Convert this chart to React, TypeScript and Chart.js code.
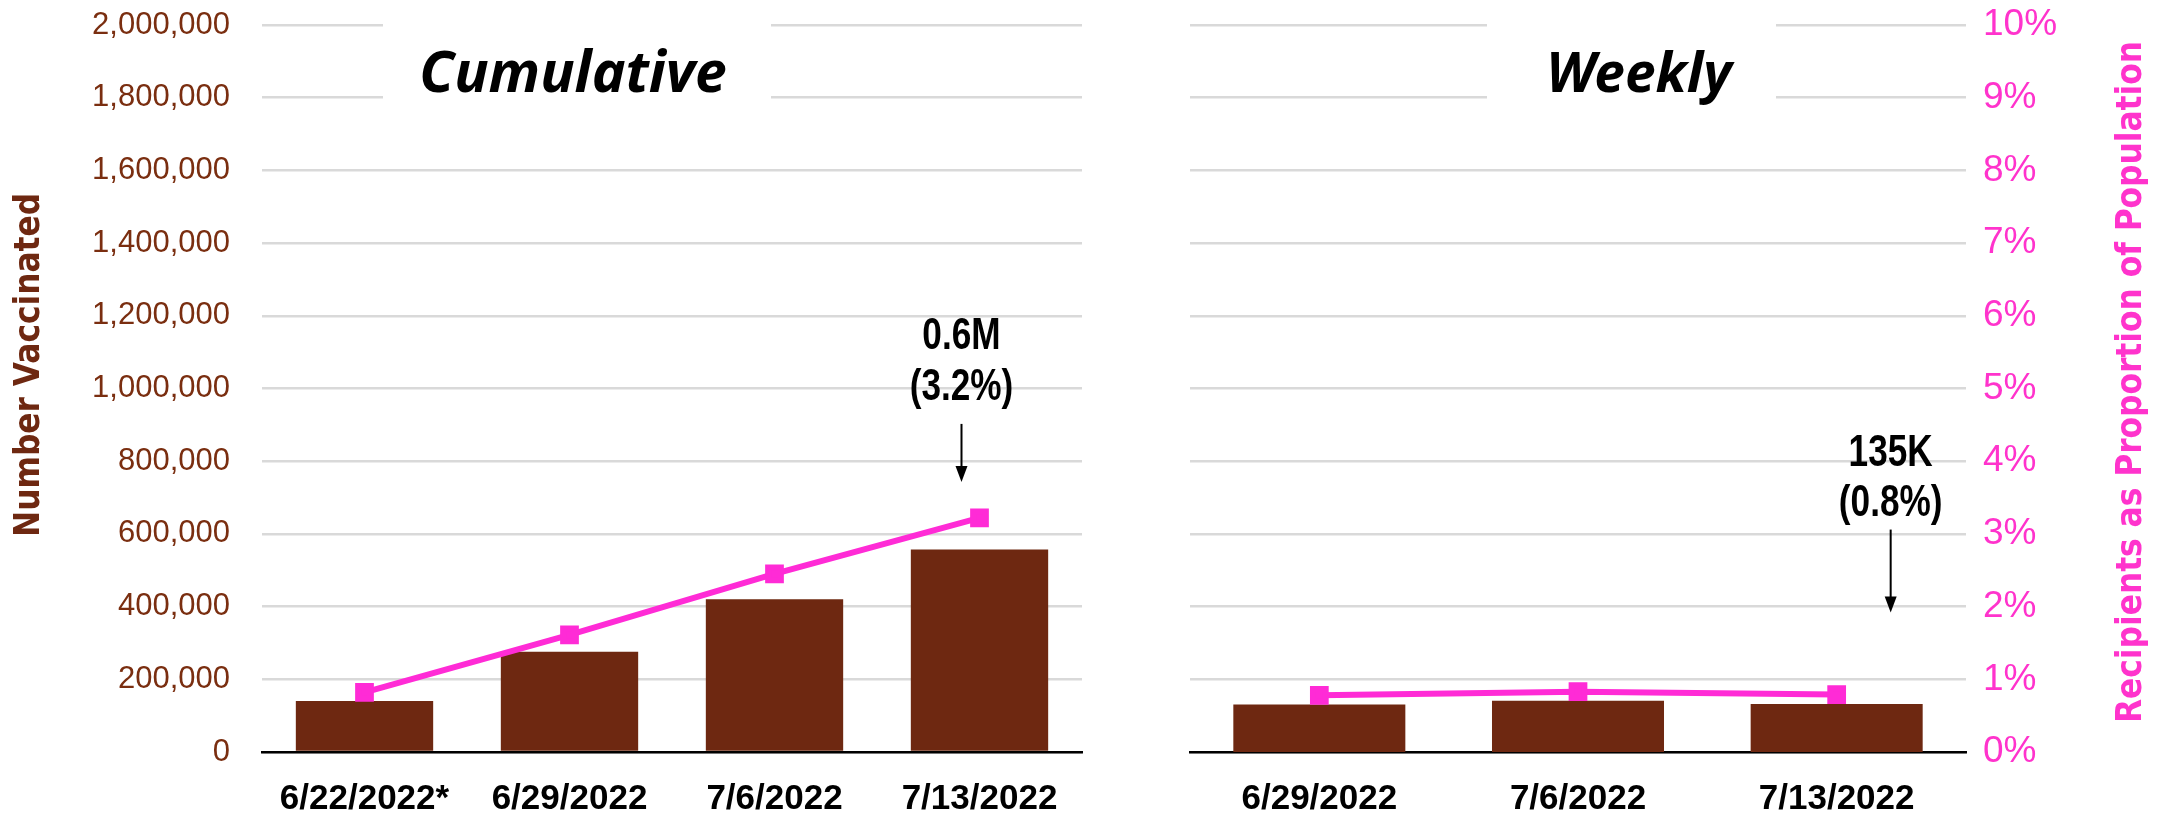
import React, { useEffect, useRef } from "react";
import { Chart, registerables } from "chart.js";

Chart.register(...registerables);

// ---- Data ----
const cumulativeDates = ["6/22/2022*", "6/29/2022", "7/6/2022", "7/13/2022"];
const cumulativeCounts = [140000, 276000, 420000, 557000];
const cumulativePct = [0.82, 1.61, 2.45, 3.22];

const weeklyDates = ["6/29/2022", "7/6/2022", "7/13/2022"];
const weeklyCounts = [131000, 141000, 132000];
const weeklyPct = [0.78, 0.83, 0.79];

const countMax = 2000000;
const countStep = 200000;
const pctMax = 10;
const pctStep = 1;

const cumulativeNote = ["0.6M", "(3.2%)"];
const weeklyNote = ["135K", "(0.8%)"];

// ---- Styles ----
const BAR = "#6E2811";
const BROWN_TEXT = "#7A2E10";
const PINK = "#FF2BD6";
const PINK_TEXT = "#FF33CC";
const GRID = "#D9D9D9";
const SANS = "'Liberation Sans', Arial, sans-serif";
const WIDE_BOLD = "'DejaVu Sans', Verdana, sans-serif";
const TITLE_FONT = "'Noto Sans', 'Open Sans', sans-serif";

type OverlayCfg = {
  title: string;
  titleX: number;
  titleY: number;
  titleSize: number;
  box: [number, number, number, number];
  note: string[];
  noteIndex: number;
  noteDx: number;
  noteText1: number;
  noteText2: number;
  arrowStart: number;
  arrowEnd: number;
  axisTitle: string;
  axisTitleX: number;
  axisTitleY: number;
  axisTitleLen: number;
  axisTitleColor: string;
};

function squeezedText(ctx: CanvasRenderingContext2D, text: string, x: number, y: number, sx: number) {
  ctx.save();
  ctx.translate(x, y);
  ctx.scale(sx, 1);
  ctx.fillText(text, 0, 0);
  ctx.restore();
}

function makeOverlay(cfg: OverlayCfg) {
  return {
    id: "overlay",
    afterDraw(chart: any) {
      const ctx = chart.ctx as CanvasRenderingContext2D;
      ctx.save();
      // title with white backdrop
      ctx.fillStyle = "#ffffff";
      ctx.fillRect(cfg.box[0], cfg.box[1], cfg.box[2], cfg.box[3]);
      ctx.fillStyle = "#000000";
      ctx.font = `italic bold ${cfg.titleSize}px ${TITLE_FONT}`;
      ctx.textAlign = "center";
      ctx.textBaseline = "middle";
      ctx.fillText(cfg.title, cfg.titleX, cfg.titleY);

      // annotation
      const meta = chart.getDatasetMeta(0);
      const pt = meta.data[cfg.noteIndex];
      const ax = pt.x + cfg.noteDx;
      const py = pt.y;
      ctx.font = `bold 44px ${SANS}`;
      squeezedText(ctx, cfg.note[0], ax, py + cfg.noteText1, 0.8);
      squeezedText(ctx, cfg.note[1], ax, py + cfg.noteText2, 0.8);
      const y0 = py + cfg.arrowStart;
      const y1 = py + cfg.arrowEnd;
      ctx.strokeStyle = "#000";
      ctx.lineWidth = 2;
      ctx.beginPath();
      ctx.moveTo(ax, y0);
      ctx.lineTo(ax, y1 - 14);
      ctx.stroke();
      ctx.beginPath();
      ctx.moveTo(ax - 6, y1 - 16);
      ctx.lineTo(ax + 6, y1 - 16);
      ctx.lineTo(ax, y1);
      ctx.closePath();
      ctx.fill();

      // axis title (reads bottom to top)
      ctx.fillStyle = cfg.axisTitleColor;
      ctx.font = `bold 36px ${WIDE_BOLD}`;
      const w = ctx.measureText(cfg.axisTitle).width;
      ctx.translate(cfg.axisTitleX, cfg.axisTitleY);
      ctx.rotate(-Math.PI / 2);
      ctx.scale(cfg.axisTitleLen / w, 1);
      ctx.fillText(cfg.axisTitle, 0, 0);
      ctx.restore();
    },
  };
}

const xAxis = {
  grid: { display: false, drawTicks: false },
  border: { display: true, color: "#000", width: 2.5 },
  ticks: {
    color: "#000",
    font: { family: SANS, size: 35, weight: "bold" },
    padding: 26,
    maxRotation: 0,
    autoSkip: false,
  },
  afterFit: (s: any) => {
    s.height = 74;
    s.paddingLeft = 0;
    s.paddingRight = 0;
  },
};

function LeftChart() {
  const ref = useRef<HTMLCanvasElement>(null);
  useEffect(() => {
    const chart = new Chart(ref.current!, {
      type: "bar",
      data: {
        labels: cumulativeDates,
        datasets: [
          {
            type: "line",
            data: cumulativePct,
            yAxisID: "y1",
            borderColor: PINK,
            backgroundColor: PINK,
            borderWidth: 6,
            pointStyle: "rect",
            pointRadius: 9,
            order: 0,
          } as any,
          {
            type: "bar",
            data: cumulativeCounts,
            yAxisID: "y",
            backgroundColor: BAR,
            barPercentage: 0.67,
            categoryPercentage: 1,
            order: 1,
          },
        ],
      },
      options: {
        animation: false,
        responsive: false,
        maintainAspectRatio: false,
        layout: { padding: { top: 25, right: 28, left: 0, bottom: 0 } },
        plugins: { legend: { display: false }, tooltip: { enabled: false } },
        scales: {
          x: xAxis as any,
          y: {
            min: 0,
            max: countMax,
            ticks: {
              stepSize: countStep,
              color: BROWN_TEXT,
              font: { family: SANS, size: 31 },
              padding: 32,
              callback: (v: any) => Number(v).toLocaleString("en-US"),
            },
            grid: { color: GRID, lineWidth: 2.5, drawTicks: false },
            border: { display: false },
            afterFit: (s: any) => {
              s.width = 262;
              s.paddingTop = 0;
              s.paddingBottom = 0;
            },
          } as any,
          y1: { display: false, min: 0, max: pctMax },
        },
      },
      plugins: [
        makeOverlay({
          title: "Cumulative",
          titleX: 573,
          titleY: 76,
          titleSize: 57,
          box: [383, 16, 388, 92],
          note: cumulativeNote,
          noteIndex: 3,
          noteDx: -18,
          noteText1: -181,
          noteText2: -130,
          arrowStart: -94,
          arrowEnd: -36,
          axisTitle: "Number Vaccinated",
          axisTitleX: 30,
          axisTitleY: 365,
          axisTitleLen: 344,
          axisTitleColor: BAR,
        }),
      ],
    });
    return () => chart.destroy();
  }, []);
  return (
    <canvas
      ref={ref}
      width={1110}
      height={826}
      style={{ position: "absolute", left: 0, top: 0, width: 1110, height: 826 }}
    />
  );
}

function RightChart() {
  const ref = useRef<HTMLCanvasElement>(null);
  useEffect(() => {
    const chart = new Chart(ref.current!, {
      type: "bar",
      data: {
        labels: weeklyDates,
        datasets: [
          {
            type: "line",
            data: weeklyPct,
            yAxisID: "y1",
            borderColor: PINK,
            backgroundColor: PINK,
            borderWidth: 6,
            pointStyle: "rect",
            pointRadius: 9,
            order: 0,
          } as any,
          {
            type: "bar",
            data: weeklyCounts,
            yAxisID: "y",
            backgroundColor: BAR,
            barPercentage: 0.665,
            categoryPercentage: 1,
            order: 1,
          },
        ],
      },
      options: {
        animation: false,
        responsive: false,
        maintainAspectRatio: false,
        layout: { padding: { top: 25, right: 0, left: 80, bottom: 0 } },
        plugins: { legend: { display: false }, tooltip: { enabled: false } },
        scales: {
          x: xAxis as any,
          y: { display: false, min: 0, max: countMax },
          y1: {
            position: "right",
            min: 0,
            max: pctMax,
            ticks: {
              stepSize: pctStep,
              color: PINK_TEXT,
              font: { family: SANS, size: 37 },
              padding: 17,
              callback: (v: any) => `${v}%`,
            },
            grid: { color: GRID, lineWidth: 2.5, drawTicks: false },
            border: { display: false },
            afterFit: (s: any) => {
              s.width = 193;
              s.paddingTop = 0;
              s.paddingBottom = 0;
            },
          } as any,
        },
      },
      plugins: [
        makeOverlay({
          title: "Weekly",
          titleX: 529,
          titleY: 76,
          titleSize: 55,
          box: [377, 16, 289, 92],
          note: weeklyNote,
          noteIndex: 2,
          noteDx: 54,
          noteText1: -241,
          noteText2: -191,
          arrowStart: -165,
          arrowEnd: -82,
          axisTitle: "Recipients as Proportion of Population",
          axisTitleX: 1022,
          axisTitleY: 382,
          axisTitleLen: 682,
          axisTitleColor: PINK_TEXT,
        }),
      ],
    });
    return () => chart.destroy();
  }, []);
  return (
    <canvas
      ref={ref}
      width={1049}
      height={826}
      style={{ position: "absolute", left: 1110, top: 0, width: 1049, height: 826 }}
    />
  );
}

export default function App() {
  return (
    <div
      style={{
        position: "absolute",
        left: 0,
        top: 0,
        width: 2159,
        height: 826,
        background: "#ffffff",
        overflow: "hidden",
      }}
    >
      <LeftChart />
      <RightChart />
    </div>
  );
}
